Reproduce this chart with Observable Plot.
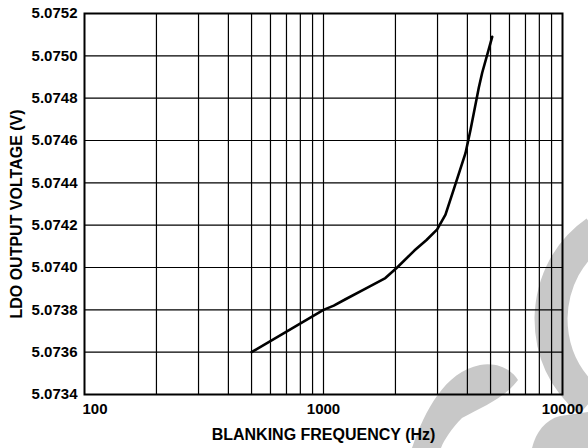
<!DOCTYPE html>
<html>
<head>
<meta charset="utf-8">
<script src="https://cdn.jsdelivr.net/npm/d3@7"></script>
<script src="https://cdn.jsdelivr.net/npm/@observablehq/plot@0.6"></script>
<style>
  html, body { margin: 0; padding: 0; background: #fff; }
  #wrap { position: relative; width: 588px; height: 448px; overflow: hidden; background: #fff; }
  #wm { position: absolute; left: 0; top: 0; z-index: 0; }
  #chart { position: absolute; left: 0; top: 0; z-index: 1; }
  #chart svg { background: transparent !important; }
</style>
</head>
<body>
<div id="wrap">
  <!-- decorative background watermark of the reference picture (not data) -->
  <svg id="wm" width="588" height="448" viewBox="0 0 588 448">
    <path d="M 596 232 C 570 250, 552 280, 551 318 C 551 350, 562 378, 590 402" fill="none" stroke="#c8c8c8" stroke-width="33"/>
    <path d="M 412 448 C 425 410, 445 372, 480 365 C 498 362, 512 370, 518 380 C 505 398, 480 408, 462 418 C 452 428, 444 440, 441 448 Z" fill="#c8c8c8"/>
    <path d="M 532 448 C 536 432, 545 420, 560 416 L 588 412 L 588 448 Z" fill="#c8c8c8"/>
  </svg>
  <div id="chart"></div>
</div>
<script>
// Data
const frequency = [500, 1000, 1104, 1236, 1500, 1815, 2033, 2400, 2698, 2990, 3239, 3510, 3927, 4121, 4466, 4613, 5080];
const voltage   = [5.07360, 5.07380, 5.07382, 5.07385, 5.07390, 5.07395, 5.07400, 5.07408, 5.07413, 5.07418, 5.07425, 5.07437, 5.07454, 5.07465, 5.07485, 5.07492, 5.07509];

const xTickLabels = [100, 1000, 10000];
const yTicks = [5.0734, 5.0736, 5.0738, 5.0740, 5.0742, 5.0744, 5.0746, 5.0748, 5.0750, 5.0752];
const xGrid = [200, 300, 400, 500, 600, 700, 800, 900, 1000, 2000, 3000, 4000, 5000, 6000, 7000, 8000, 9000];

const xLabel = "BLANKING FREQUENCY (Hz)";
const yLabel = "LDO OUTPUT VOLTAGE (V)";

const data = frequency.map((f, i) => ({f, v: voltage[i]}));

const font = "'Liberation Sans', Arial, sans-serif";

const chart = Plot.plot({
  width: 588,
  height: 448,
  marginLeft: 84,
  marginRight: 26,
  marginTop: 13,
  marginBottom: 54,
  style: {fontFamily: font, background: "transparent", color: "#000"},
  x: {type: "log", domain: [100, 10000], axis: null},
  y: {domain: [5.0734, 5.0752], axis: null},
  marks: [
    Plot.ruleX(xGrid, {stroke: "#000", strokeWidth: 1.2}),
    Plot.ruleY(yTicks, {stroke: "#000", strokeWidth: 1.2}),
    Plot.frame({stroke: "#000", strokeWidth: 2}),
    Plot.line(data, {x: "f", y: "v", stroke: "#000", strokeWidth: 2.6, curve: "linear"}),
    Plot.axisY(yTicks, {tickSize: 0, tickPadding: 7, tickFormat: d3.format(".4f"), fontSize: 15, fontWeight: "bold", label: null}),
    Plot.text(xTickLabels.filter((d, i) => i === 0), {x: d => d, frameAnchor: "bottom", lineAnchor: "middle", dy: 15, dx: -2, textAnchor: "start", text: d => String(d), fontSize: 15, fontWeight: "bold"}),
    Plot.text(xTickLabels.filter((d, i) => i > 0), {x: d => d, frameAnchor: "bottom", lineAnchor: "middle", textAnchor: "middle", dy: 15, text: d => String(d), fontSize: 15, fontWeight: "bold"}),
    Plot.text([xLabel], {frameAnchor: "bottom", lineAnchor: "middle", textAnchor: "middle", dy: 40, fontSize: 16, fontWeight: "bold"}),
    Plot.text([yLabel], {frameAnchor: "left", lineAnchor: "middle", textAnchor: "middle", rotate: -90, dx: -68, dy: 10, fontSize: 16, fontWeight: "bold"})
  ]
});

document.getElementById("chart").appendChild(chart);
</script>
</body>
</html>
